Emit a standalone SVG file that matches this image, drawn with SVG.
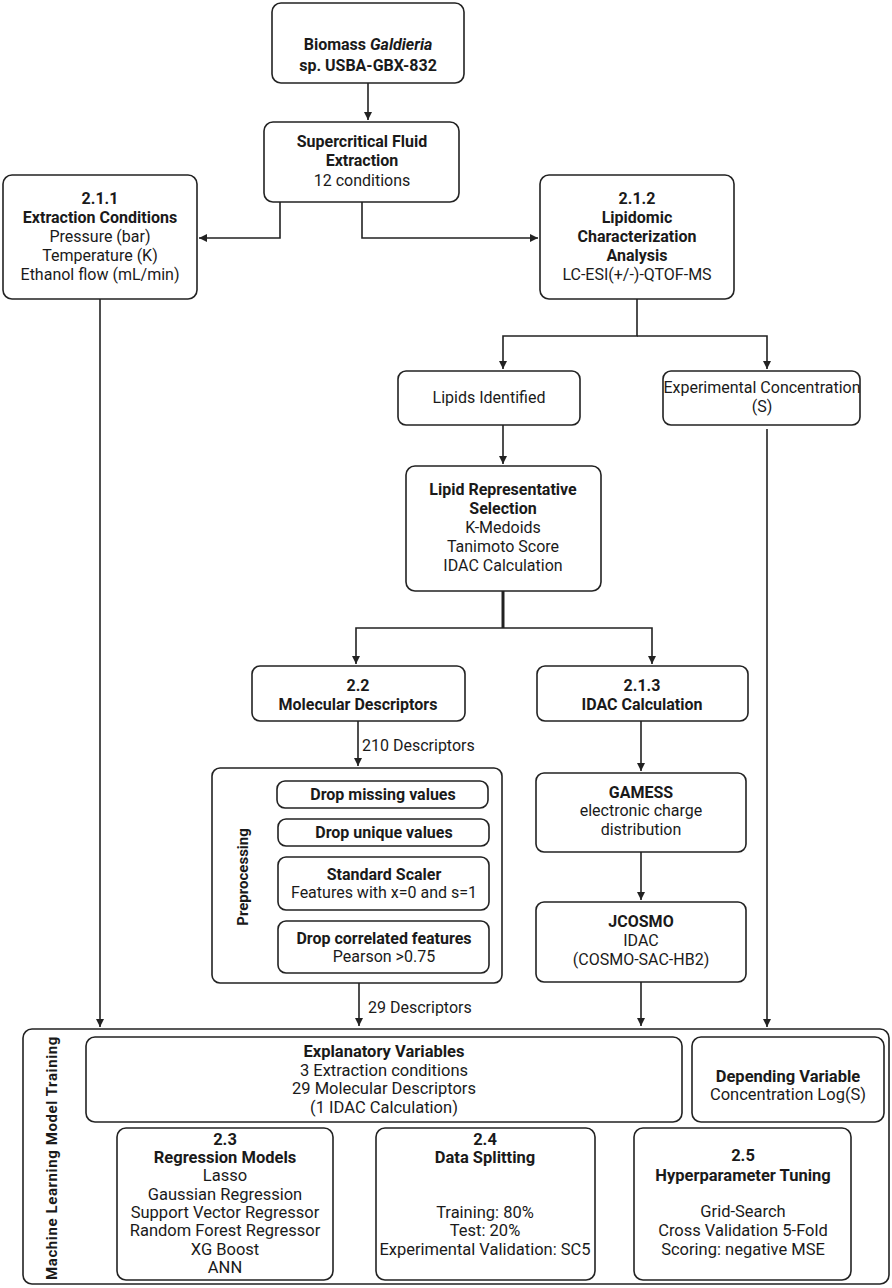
<svg xmlns="http://www.w3.org/2000/svg" width="892" height="1288" viewBox="0 0 892 1288">
<style>
text{font-family:Roboto,"Liberation Sans",sans-serif;font-size:16px;fill:#1a1a1a;text-anchor:middle}
.b{font-weight:bold}
.lg{font-size:16.5px}
.n{fill:#fff;stroke:#222;stroke-width:1.6}
.c{fill:none;stroke:#222;stroke-width:1.6}
</style>
<defs>
<marker id="ah" viewBox="0 0 10 10" refX="10" refY="5" markerWidth="8" markerHeight="8" markerUnits="userSpaceOnUse" orient="auto"><path d="M0,0 L10,5 L0,10 z" fill="#222"/></marker>
</defs>
<rect width="892" height="1288" fill="#fff"/>
<g id="connectors">
<path class="c" d="M368,83 V120" marker-end="url(#ah)"/>
<path class="c" d="M280,202 V238 H199" marker-end="url(#ah)"/>
<path class="c" d="M362,202 V238 H538" marker-end="url(#ah)"/>
<path class="c" d="M637,299 V336 H503 V369" marker-end="url(#ah)"/>
<path class="c" d="M637,336 H767 V369" marker-end="url(#ah)"/>
<path class="c" d="M767,429 V1027" marker-end="url(#ah)"/>
<path class="c" d="M503,425 V464" marker-end="url(#ah)"/>
<path class="c" d="M503,591 V628" style="stroke-width:3"/>
<path class="c" d="M503,628 H356 V664" marker-end="url(#ah)"/>
<path class="c" d="M503,628 H652 V664" marker-end="url(#ah)"/>
<path class="c" d="M358,721 V766" marker-end="url(#ah)"/>
<path class="c" d="M359,983 V1026" marker-end="url(#ah)"/>
<path class="c" d="M641,721 V771" marker-end="url(#ah)"/>
<path class="c" d="M641,852 V900" marker-end="url(#ah)"/>
<path class="c" d="M641,982 V1026" marker-end="url(#ah)"/>
<path class="c" d="M100,299 V1027" marker-end="url(#ah)"/>
<text x="362" y="751" style="text-anchor:start">210 Descriptors</text>
<text x="368" y="1013" style="text-anchor:start">29 Descriptors</text>
</g>
<g id="biomass">
<rect class="n" x="272" y="3" width="192" height="80" rx="9"/>
<text x="368" y="50" class="b">Biomass <tspan font-style="italic">Galdieria</tspan></text>
<text x="368" y="71" class="b">sp. USBA-GBX-832</text>
</g>
<g id="sfe">
<rect class="n" x="264" y="122" width="195" height="80" rx="9"/>
<text x="362" y="147" class="b">Supercritical Fluid</text>
<text x="362" y="166" class="b">Extraction</text>
<text x="362" y="186">12 conditions</text>
</g>
<g id="n211">
<rect class="n" x="3" y="175" width="194" height="124" rx="9"/>
<text x="100" y="204" class="b">2.1.1</text>
<text x="100" y="223" class="b">Extraction Conditions</text>
<text x="100" y="242">Pressure (bar)</text>
<text x="100" y="261">Temperature (K)</text>
<text x="100" y="280">Ethanol flow (mL/min)</text>
</g>
<g id="n212">
<rect class="n" x="540" y="175" width="194" height="124" rx="9"/>
<text x="637" y="204" class="b">2.1.2</text>
<text x="637" y="223" class="b">Lipidomic</text>
<text x="637" y="242" class="b">Characterization</text>
<text x="637" y="261" class="b">Analysis</text>
<text x="637" y="280">LC-ESI(+/-)-QTOF-MS</text>
</g>
<g id="lipids">
<rect class="n" x="398" y="371" width="182" height="54" rx="8"/>
<text x="489" y="403">Lipids Identified</text>
</g>
<g id="expconc">
<rect class="n" x="663" y="371" width="197" height="54" rx="8"/>
<text x="762" y="393">Experimental Concentration</text>
<text x="762" y="412">(S)</text>
</g>
<g id="lipidrep">
<rect class="n" x="406" y="466" width="195" height="125" rx="9"/>
<text x="503" y="495" class="b">Lipid Representative</text>
<text x="503" y="514" class="b">Selection</text>
<text x="503" y="533">K-Medoids</text>
<text x="503" y="552">Tanimoto Score</text>
<text x="503" y="571">IDAC Calculation</text>
</g>
<g id="n22">
<rect class="n" x="252" y="666" width="213" height="55" rx="8"/>
<text x="358" y="691" class="b">2.2</text>
<text x="358" y="710" class="b">Molecular Descriptors</text>
</g>
<g id="n213">
<rect class="n" x="537" y="666" width="211" height="55" rx="8"/>
<text x="642" y="691" class="b">2.1.3</text>
<text x="642" y="710" class="b">IDAC Calculation</text>
</g>
<g id="preprocessing">
<rect class="n" x="212" y="768" width="290" height="215" rx="8"/>
<text x="0" y="0" class="b" style="font-size:15px" transform="translate(248,877) rotate(-90)">Preprocessing</text>
<rect class="n" x="277" y="781" width="211" height="27" rx="8"/>
<text x="383" y="800" class="b">Drop missing values</text>
<rect class="n" x="278" y="819" width="211" height="27" rx="8"/>
<text x="384" y="838" class="b">Drop unique values</text>
<rect class="n" x="278" y="857" width="211" height="53" rx="8"/>
<text x="384" y="880" class="b">Standard Scaler</text>
<text x="384" y="898">Features with x=0 and s=1</text>
<rect class="n" x="278" y="921" width="211" height="52" rx="8"/>
<text x="384" y="944" class="b">Drop correlated features</text>
<text x="384" y="962">Pearson &gt;0.75</text>
</g>
<g id="gamess">
<rect class="n" x="536" y="773" width="210" height="79" rx="8"/>
<text x="641" y="798" class="b">GAMESS</text>
<text x="641" y="816">electronic charge</text>
<text x="641" y="835">distribution</text>
</g>
<g id="jcosmo">
<rect class="n" x="536" y="902" width="210" height="80" rx="8"/>
<text x="641" y="927" class="b">JCOSMO</text>
<text x="641" y="946">IDAC</text>
<text x="641" y="965">(COSMO-SAC-HB2)</text>
</g>
<g id="mltraining">
<rect class="n" x="23" y="1029" width="866" height="255" rx="9"/>
<text x="0" y="0" class="b" style="font-size:15px;letter-spacing:0.6px" transform="translate(57,1158) rotate(-90)">Machine Learning Model Training</text>
</g>
<g id="explanatory">
<rect class="n" x="86" y="1037" width="596" height="85" rx="9"/>
<text x="384" y="1057" class="b lg">Explanatory Variables</text>
<text x="384" y="1076" class="lg">3 Extraction conditions</text>
<text x="384" y="1094" class="lg">29 Molecular Descriptors</text>
<text x="384" y="1113" class="lg">(1 IDAC Calculation)</text>
</g>
<g id="depending">
<rect class="n" x="692" y="1037" width="192" height="85" rx="9"/>
<text x="788" y="1082" class="b lg">Depending Variable</text>
<text x="788" y="1100" class="lg">Concentration Log(S)</text>
</g>
<g id="n23">
<rect class="n" x="117" y="1128" width="216" height="152" rx="9"/>
<text x="225" y="1145" class="b lg">2.3</text>
<text x="225" y="1163" class="b lg">Regression Models</text>
<text x="225" y="1181" class="lg">Lasso</text>
<text x="225" y="1200" class="lg">Gaussian Regression</text>
<text x="225" y="1218" class="lg">Support Vector Regressor</text>
<text x="225" y="1236" class="lg">Random Forest Regressor</text>
<text x="225" y="1255" class="lg">XG Boost</text>
<text x="225" y="1273" class="lg">ANN</text>
</g>
<g id="n24">
<rect class="n" x="376" y="1128" width="219" height="152" rx="9"/>
<text x="485" y="1145" class="b lg">2.4</text>
<text x="485" y="1163" class="b lg">Data Splitting</text>
<text x="485" y="1218" class="lg">Training: 80%</text>
<text x="485" y="1236" class="lg">Test: 20%</text>
<text x="485" y="1255" class="lg">Experimental Validation: SC5</text>
</g>
<g id="n25">
<rect class="n" x="634" y="1128" width="217" height="152" rx="9"/>
<text x="743" y="1161" class="b lg">2.5</text>
<text x="743" y="1181" class="b lg">Hyperparameter Tuning</text>
<text x="743" y="1217" class="lg">Grid-Search</text>
<text x="743" y="1236" class="lg">Cross Validation 5-Fold</text>
<text x="743" y="1255" class="lg">Scoring: negative MSE</text>
</g>
</svg>
